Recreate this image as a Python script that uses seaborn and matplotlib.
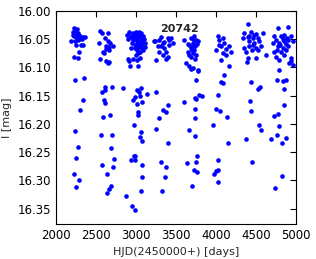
import numpy as np
import pandas as pd
import matplotlib
matplotlib.use("Agg")
import matplotlib.pyplot as plt
import seaborn as sns

# -----------------------------
# Light curve points
# -----------------------------
season1_hjd = [2229, 2258, 2242, 2217, 2238, 2275, 2208, 2250, 2292, 2229, 2267, 2304, 2333, 2367,
               2258, 2292, 2188, 2233, 2325, 2271, 2250, 2313, 2333, 2292, 2229, 2271,
               2233, 2350, 2342, 2296, 2233, 2275, 2254, 2229, 2283, 2254]
season1_mag = [16.031, 16.032, 16.035, 16.038, 16.039, 16.039, 16.042, 16.042, 16.042, 16.045, 16.045, 16.045, 16.047, 16.047,
               16.048, 16.049, 16.054, 16.053, 16.050, 16.052, 16.060, 16.061, 16.060, 16.072, 16.081, 16.084,
               16.122, 16.119, 16.158, 16.176, 16.212, 16.241, 16.261, 16.289, 16.299, 16.311]

season2_hjd = [2554, 2575, 2646, 2542, 2617, 2646, 2675, 2708, 2625, 2658, 2625, 2667, 2604, 2583,
               2554, 2625, 2646, 2667,
               2608, 2579, 2617, 2704, 2600, 2617, 2671, 2588, 2563, 2700, 2683, 2571, 2729, 2708,
               2633, 2683, 2658, 2637]
season2_mag = [16.035, 16.039, 16.039, 16.056, 16.048, 16.054, 16.057, 16.062, 16.062, 16.064, 16.068, 16.069, 16.075, 16.072,
               16.085, 16.088, 16.092, 16.090,
               16.135, 16.143, 16.140, 16.135, 16.158, 16.163, 16.184, 16.188, 16.219, 16.220, 16.243, 16.272, 16.262, 16.276,
               16.288, 16.310, 16.315, 16.322]

season3_hjd = [2888, 2917, 2933, 2967, 3000, 3021, 3042, 3017, 3050, 2988, 3029, 2958, 3071, 3100,
               3008, 3050, 3092, 2946, 2988, 3029, 3071, 3113, 3008, 3050, 3092, 3029, 2904, 2917,
               2958, 3008, 3050, 2925, 3029, 2975, 3071, 3113,
               2900, 2942, 2996, 3033, 3058, 2983, 3017, 3063, 2938, 3083, 3000, 3042,
               3067, 3010, 3040, 3050, 2963, 2988, 3075, 3008, 3025, 3025, 2842, 2979, 3067, 3050,
               3071, 2971, 2988, 2933, 2983, 3075, 3079, 3063, 2875, 2950, 2983]
season3_mag = [16.042, 16.037, 16.044, 16.039, 16.037, 16.039, 16.038, 16.044, 16.045, 16.048, 16.050, 16.051, 16.052, 16.050,
               16.054, 16.057, 16.056, 16.057, 16.060, 16.063, 16.066, 16.064, 16.069, 16.072, 16.070, 16.075, 16.085, 16.088,
               16.085, 16.087, 16.084, 16.097, 16.097, 16.045, 16.046, 16.057,
               16.050, 16.047, 16.042, 16.046, 16.040, 16.066, 16.058, 16.060, 16.066, 16.044, 16.078, 16.064,
               16.136, 16.140, 16.143, 16.151, 16.158, 16.153, 16.162, 16.165, 16.178, 16.185, 16.137, 16.202, 16.215, 16.223,
               16.231, 16.256, 16.257, 16.263, 16.263, 16.272, 16.294, 16.318, 16.328, 16.345, 16.353]

season4_hjd = [3225, 3242, 3292, 3313, 3333, 3396, 3417, 3438, 3313, 3354, 3375, 3417, 3458, 3292,
               3396, 3250, 3333, 3375, 3354, 3270,
               3138, 3244, 3255, 3290, 3400, 3342, 3375, 3400, 3313, 3375, 3358, 3325]
season4_mag = [16.054, 16.054, 16.051, 16.047, 16.057, 16.048, 16.052, 16.048, 16.063, 16.066, 16.072, 16.060, 16.057, 16.072,
               16.081, 16.087, 16.078, 16.085, 16.055, 16.062,
               16.147, 16.143, 16.209, 16.190, 16.166, 16.176, 16.178, 16.234, 16.267, 16.277, 16.293, 16.319]

season5_hjd = [3604, 3688, 3729, 3750, 3708, 3667, 3771, 3688, 3729, 3646, 3708, 3750, 3667, 3688,
               3625, 3667, 3708, 3771, 3742, 3700, 3688, 3779, 3717, 3758, 3696, 3738, 3650,
               3754, 3604, 3738, 3754, 3788, 3829, 3738, 3733, 3663, 3733, 3642, 3763, 3754, 3725,
               3763, 3704]
season5_mag = [16.052, 16.048, 16.045, 16.051, 16.057, 16.060, 16.054, 16.066, 16.069, 16.072, 16.075, 16.078, 16.078, 16.081,
               16.092, 16.098, 16.101, 16.105, 16.063, 16.062, 16.103, 16.107, 16.050, 16.058, 16.070, 16.085, 16.058,
               16.122, 16.161, 16.154, 16.155, 16.148, 16.151, 16.173, 16.190, 16.210, 16.221, 16.269, 16.257, 16.267, 16.282,
               16.285, 16.309]

season6_hjd = [4021, 4042, 4083, 4104, 4063, 4125, 4000, 4167, 4188, 4083, 4125, 4063, 4167, 4104, 4033,
               4067, 4088, 4029, 3998, 4054, 4133, 3967, 4144, 4021, 4025, 4000, 3969, 4029]
season6_mag = [16.045, 16.051, 16.048, 16.057, 16.063, 16.068, 16.069, 16.063, 16.072, 16.075, 16.078, 16.087, 16.098, 16.113, 16.060,
               16.125, 16.127, 16.149, 16.174, 16.177, 16.187, 16.201, 16.234, 16.264, 16.281, 16.284, 16.289, 16.303]

season7_hjd = [4396, 4354, 4438, 4479, 4500, 4583, 4333, 4396, 4458, 4521, 4417, 4479, 4542, 4354,
               4417, 4500, 4563, 4375, 4450, 4625, 4500, 4396, 4388, 4467, 4413, 4529,
               4442, 4529, 4554, 4429, 4442, 4542, 4558, 4379, 4454]
season7_mag = [16.023, 16.039, 16.038, 16.042, 16.041, 16.039, 16.048, 16.047, 16.048, 16.048, 16.054, 16.056, 16.054, 16.066,
               16.063, 16.066, 16.063, 16.072, 16.069, 16.078, 16.084, 16.084, 16.091, 16.060, 16.045, 16.070,
               16.125, 16.138, 16.135, 16.160, 16.177, 16.202, 16.210, 16.227, 16.267]

season8_hjd = [4771, 4896, 4729, 4813, 4854, 4938, 4750, 4833, 4896, 4708, 4792, 4875, 4958, 4771,
               4833, 4729, 4813, 4875, 4750, 4854, 4938, 4792, 4917, 4792, 4933, 4958,
               4800, 4846, 4883, 4763, 4904,
               4758, 4833, 4875, 4850, 4850, 4779, 4729, 4788, 4758, 4683, 4875, 4825, 4821, 4733]
season8_mag = [16.031, 16.028, 16.045, 16.044, 16.042, 16.045, 16.051, 16.050, 16.051, 16.057, 16.056, 16.058, 16.054, 16.063,
               16.066, 16.072, 16.072, 16.069, 16.081, 16.078, 16.084, 16.087, 16.092, 16.104, 16.088, 16.095,
               16.060, 16.054, 16.048, 16.070, 16.062,
               16.122, 16.124, 16.122, 16.139, 16.167, 16.183, 16.186, 16.203, 16.220, 16.226, 16.224, 16.233, 16.292, 16.313]

star_name = "20742"

hjd = season1_hjd + season2_hjd + season3_hjd + season4_hjd + season5_hjd + season6_hjd + season7_hjd + season8_hjd
mag = season1_mag + season2_mag + season3_mag + season4_mag + season5_mag + season6_mag + season7_mag + season8_mag
df = pd.DataFrame({"HJD": hjd, "I": mag})

# -----------------------------
# Plot
# -----------------------------
sns.set_style("white")
plt.rcParams["font.family"] = ["DejaVu Sans"]
plt.rcParams["font.size"] = 8

fig = plt.figure(figsize=(3.16, 2.59), dpi=100)
ax = fig.add_axes([0.177, 0.135, 0.760, 0.823])

sns.scatterplot(data=df, x="HJD", y="I", color="#0000ff", s=11, linewidth=0, ax=ax)

ax.set_xlim(2000, 5000)
ax.set_ylim(16.377, 16.0)
ax.set_xticks([2000, 2500, 3000, 3500, 4000, 4500, 5000])
ax.set_yticks(np.arange(16.0, 16.351, 0.05))
ax.yaxis.set_major_formatter(matplotlib.ticker.FormatStrFormatter("%.2f"))
ax.tick_params(direction="in", length=4, width=0.8, top=True, right=True, labelsize=8.5, colors="black")
for sp in ax.spines.values():
    sp.set_color("black")
    sp.set_linewidth(0.8)

ax.set_xlabel("HJD(2450000+) [days]", fontsize=8)
ax.set_ylabel("I [mag]", fontsize=8)
ax.text(0.515, 0.915, star_name, transform=ax.transAxes, ha="center", va="center",
        fontsize=8, fontweight="bold")

fig.savefig("out.png", dpi=100)
